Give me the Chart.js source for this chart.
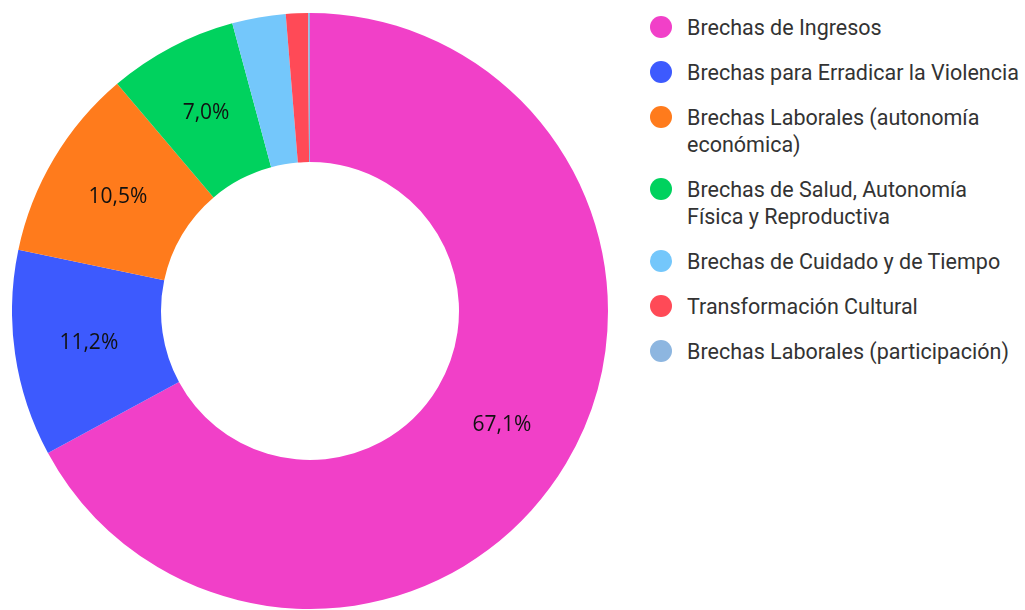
<!DOCTYPE html>
<html>
<head>
<meta charset="utf-8">
<script src="https://cdn.jsdelivr.net/npm/chart.js@4.4.1/dist/chart.umd.min.js"></script>
<style>
    body { margin: 0; background: #fff; font-family: Roboto, sans-serif; }
    #wrap { position: relative; width: 1025px; height: 610px; overflow: hidden; }
    #grafico-box { position: absolute; left: 12px; top: 13px; width: 596px; height: 596px; }
    #legenda { position: absolute; left: 650px; top: 14px; width: 375px; margin: 0; padding: 0; list-style: none; }
    #legenda li { position: relative; padding-left: 37px; font-size: 21.5px; line-height: 27px; color: #333; margin-bottom: 18px; }
    #legenda li span { position: absolute; left: 0; top: 2px; width: 22px; height: 22px; border-radius: 50%; }
</style>
</head>
<body>
<div id="wrap">
    <div id="grafico-box"><canvas id="graficoBrechas"></canvas></div>
    <ul id="legenda"></ul>
</div>
<script>
const categorias = [
    'Brechas de Ingresos',
    'Brechas para Erradicar la Violencia',
    'Brechas Laborales (autonomía económica)',
    'Brechas de Salud, Autonomía Física y Reproductiva',
    'Brechas de Cuidado y de Tiempo',
    'Transformación Cultural',
    'Brechas Laborales (participación)'
]
const porcentajes = [67.1, 11.2, 10.5, 7.0, 2.9, 1.2, 0.1]
const cores = ['#F140C8', '#3D5AFE', '#FF7B1C', '#00D25E', '#74C7FB', '#FF4A57', '#8DB6E0']

// legenda em HTML porque os textos quebram em duas linhas
const legenda = document.getElementById('legenda')
categorias.forEach((cat, i) => {
    legenda.innerHTML += `<li><span style="background:${cores[i]}"></span>${cat}</li>`
})

const rotulosPlugin = {
    id: 'rotulos',
    afterDatasetsDraw(chart) {
        const ctx = chart.ctx
        const meta = chart.getDatasetMeta(0)
        ctx.save()
        ctx.font = '21px "Open Sans", sans-serif'
        ctx.fillStyle = '#111'
        ctx.textAlign = 'center'
        ctx.textBaseline = 'middle'
        meta.data.forEach((arc, i) => {
            const v = porcentajes[i]
            if (v < 5) return
            const p = arc.tooltipPosition()
            ctx.fillText(v.toFixed(1).replace('.', ',') + '%', p.x, p.y)
        })
        ctx.restore()
    }
}

new Chart(document.getElementById('graficoBrechas'), {
    type: 'doughnut',
    data: {
        labels: categorias,
        datasets: [{
            data: porcentajes,
            backgroundColor: cores,
            borderWidth: 0
        }]
    },
    options: {
        responsive: true,
        maintainAspectRatio: false,
        animation: false,
        cutout: '50%',
        layout: { padding: 0 },
        plugins: {
            legend: { display: false },
            tooltip: { enabled: false }
        }
    },
    plugins: [rotulosPlugin]
})
</script>
</body>
</html>
